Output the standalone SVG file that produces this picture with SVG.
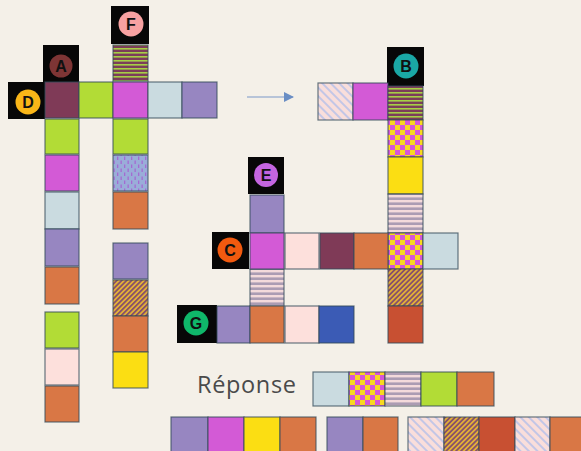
<svg xmlns="http://www.w3.org/2000/svg" width="581" height="451" viewBox="0 0 581 451">
<defs>
<style>
.c{stroke:#34495a;stroke-opacity:0.75;stroke-width:1.2}
.mar{fill:#7f3a57}.lim{fill:#b2dc36}.mag{fill:#d35ad6}.lbl{fill:#cadbe0}.pur{fill:#9786c1}
.ora{fill:#d97745}.pnk{fill:#fde0dc}.yel{fill:#fbde13}.blu{fill:#3b5bb5}.red{fill:#c85032}
.slm{fill:url(#pStripeLM)}.dot{fill:url(#pDots)}.hby{fill:url(#pHatchBY)}.hpk{fill:url(#pHatchPk)}
.chk{fill:url(#pCheck)}.spk{fill:url(#pStripePk)}
.bx{fill:#070707}
.lt{font-family:"Liberation Sans",Arial,sans-serif;font-weight:bold;font-size:16px;fill:#111;text-anchor:middle}
</style>
<pattern id="pStripeLM" patternUnits="userSpaceOnUse" width="4" height="4">
<rect width="4" height="4" fill="#7c3d5a"/><rect y="0" width="4" height="1.6" fill="#a6cf45"/>
</pattern>
<pattern id="pDots" patternUnits="userSpaceOnUse" width="7" height="8">
<rect width="7" height="8" fill="#9aadd9"/><rect x="1.5" y="0.5" width="1.3" height="3.5" fill="#a56ad2"/><rect x="5" y="4.5" width="1.3" height="3.5" fill="#a56ad2"/>
</pattern>
<pattern id="pHatchBY" patternUnits="userSpaceOnUse" width="3.5" height="3.5" patternTransform="rotate(45)">
<rect width="3.5" height="3.5" fill="#e4b236"/><rect width="1.8" height="3.5" fill="#86506a"/>
</pattern>
<pattern id="pHatchPk" patternUnits="userSpaceOnUse" width="6" height="6" patternTransform="rotate(-45)">
<rect width="6" height="6" fill="#f9dedb"/><rect width="2" height="6" fill="#c3c6e6"/>
</pattern>
<pattern id="pCheck" patternUnits="userSpaceOnUse" width="10" height="10">
<rect width="10" height="10" fill="#d456d8"/><rect width="5" height="5" fill="#f8d820"/><rect x="5" y="5" width="5" height="5" fill="#f8d820"/>
</pattern>
<pattern id="pStripePk" patternUnits="userSpaceOnUse" width="5" height="5">
<rect width="5" height="5" fill="#ab9cb3"/><rect width="5" height="2.4" fill="#f3dadb"/>
</pattern>
<marker id="arr" markerWidth="10" markerHeight="10" refX="9" refY="5" orient="auto" markerUnits="userSpaceOnUse">
<path d="M0,0 L10,5 L0,10 Z" fill="#6a8ec4"/>
</marker>
</defs>
<rect width="581" height="451" fill="#f4f0e8"/>

<g id="connectors">
<line x1="247" y1="97" x2="293" y2="97" stroke="#7a98c8" stroke-width="1.2" marker-end="url(#arr)"/>
</g>

<!-- Left assembly -->
<g id="badge-A"><rect class="bx" x="43" y="45" width="36" height="37"/><circle cx="61" cy="66" r="11.5" fill="#7e3535"/><text class="lt" x="61" y="72">A</text></g>
<g id="badge-D"><rect class="bx" x="8" y="82" width="37" height="37"/><circle cx="28" cy="102" r="12.5" fill="#f9b618"/><text class="lt" x="28" y="108">D</text></g>
<g id="badge-F"><rect class="bx" x="111" y="6" width="38" height="38"/><circle cx="131" cy="24" r="12.5" fill="#f7a1a1"/><text class="lt" x="131" y="30">F</text></g>

<g id="chain-row-AD">
<rect class="c mar" x="45" y="82" width="34" height="36"/>
<rect class="c lim" x="79" y="82" width="34" height="36"/>
<rect class="c mag" x="113" y="82" width="35" height="36"/>
<rect class="c lbl" x="148" y="82" width="34" height="36"/>
<rect class="c pur" x="182" y="82" width="35" height="36"/>
</g>
<g id="chain-col-A">
<rect class="c lim" x="45" y="119" width="34" height="35"/>
<rect class="c mag" x="45" y="155" width="34" height="36"/>
<rect class="c lbl" x="45" y="192" width="34" height="37"/>
<rect class="c pur" x="45" y="229" width="34" height="37"/>
<rect class="c ora" x="45" y="267" width="34" height="37"/>
</g>
<g id="chain-col-A2">
<rect class="c lim" x="45" y="312" width="34" height="36"/>
<rect class="c pnk" x="45" y="349" width="34" height="36"/>
<rect class="c ora" x="45" y="386" width="34" height="36"/>
</g>
<g id="chain-col-F">
<rect class="c slm" x="113" y="45" width="35" height="36"/>
<rect class="c lim" x="113" y="119" width="35" height="35"/>
<rect class="c dot" x="113" y="155" width="35" height="36"/>
<rect class="c ora" x="113" y="192" width="35" height="37"/>
</g>
<g id="chain-col-F2">
<rect class="c pur" x="113" y="243" width="35" height="36"/>
<rect class="c hby" x="113" y="280" width="35" height="36"/>
<rect class="c ora" x="113" y="316" width="35" height="36"/>
<rect class="c yel" x="113" y="352" width="35" height="36"/>
</g>

<!-- Right assembly -->
<g id="badge-B"><rect class="bx" x="387" y="47" width="37" height="39"/><circle cx="406" cy="66" r="12.5" fill="#1aa8a5"/><text class="lt" x="406" y="72">B</text></g>
<g id="badge-E"><rect class="bx" x="248" y="157" width="36" height="37"/><circle cx="266" cy="175" r="12" fill="#c465e0"/><text class="lt" x="266" y="181">E</text></g>
<g id="badge-C"><rect class="bx" x="212" y="232" width="37" height="37"/><circle cx="230" cy="250" r="12.5" fill="#f25a0f"/><text class="lt" x="230" y="256">C</text></g>
<g id="badge-G"><rect class="bx" x="177" y="305" width="40" height="38"/><circle cx="196" cy="323" r="12.5" fill="#0fb86a"/><text class="lt" x="196" y="329">G</text></g>

<g id="chain-row-B">
<rect class="c hpk" x="318" y="83" width="35" height="37"/>
<rect class="c mag" x="353" y="83" width="35" height="37"/>
</g>
<g id="chain-col-B">
<rect class="c slm" x="388" y="86" width="35" height="34"/>
<rect class="c chk" x="388" y="120" width="35" height="37"/>
<rect class="c yel" x="388" y="157" width="35" height="37"/>
<rect class="c spk" x="388" y="194" width="35" height="39"/>
<rect class="c chk" x="388" y="233" width="35" height="36"/>
<rect class="c hby" x="388" y="269" width="35" height="37"/>
<rect class="c red" x="388" y="306" width="35" height="37"/>
</g>
<g id="chain-col-E">
<rect class="c pur" x="250" y="195" width="34" height="38"/>
<rect class="c spk" x="250" y="269" width="34" height="37"/>
</g>
<g id="chain-row-C">
<rect class="c mag" x="250" y="233" width="34" height="36"/>
<rect class="c pnk" x="285" y="233" width="34" height="36"/>
<rect class="c mar" x="320" y="233" width="34" height="36"/>
<rect class="c ora" x="354" y="233" width="34" height="36"/>
<rect class="c lbl" x="423" y="233" width="35" height="36"/>
</g>
<g id="chain-row-G">
<rect class="c pur" x="217" y="306" width="33" height="37"/>
<rect class="c ora" x="250" y="306" width="34" height="37"/>
<rect class="c pnk" x="285" y="306" width="34" height="37"/>
<rect class="c blu" x="319" y="306" width="35" height="37"/>
</g>

<!-- Answer -->
<g id="answer">
<text x="197" y="393" font-family="'Open Sans','Noto Sans',sans-serif" font-size="23.5" fill="#4a4a4a" textLength="99">Réponse</text>
<rect class="c lbl" x="313" y="372" width="36" height="34"/>
<rect class="c chk" x="349" y="372" width="36" height="34"/>
<rect class="c spk" x="385" y="372" width="36" height="34"/>
<rect class="c lim" x="421" y="372" width="36" height="34"/>
<rect class="c ora" x="457" y="372" width="37" height="34"/>
</g>
<g id="option-1">
<rect class="c pur" x="171" y="417" width="37" height="37"/>
<rect class="c mag" x="208" y="417" width="36" height="37"/>
<rect class="c yel" x="244" y="417" width="36" height="37"/>
<rect class="c ora" x="280" y="417" width="36" height="37"/>
</g>
<g id="option-2">
<rect class="c pur" x="327" y="417" width="36" height="37"/>
<rect class="c ora" x="363" y="417" width="35" height="37"/>
</g>
<g id="option-3">
<rect class="c hpk" x="408" y="417" width="36" height="37"/>
<rect class="c hby" x="444" y="417" width="35" height="37"/>
<rect class="c red" x="479" y="417" width="36" height="37"/>
<rect class="c hpk" x="515" y="417" width="35" height="37"/>
<rect class="c ora" x="550" y="417" width="36" height="37"/>
</g>
</svg>
